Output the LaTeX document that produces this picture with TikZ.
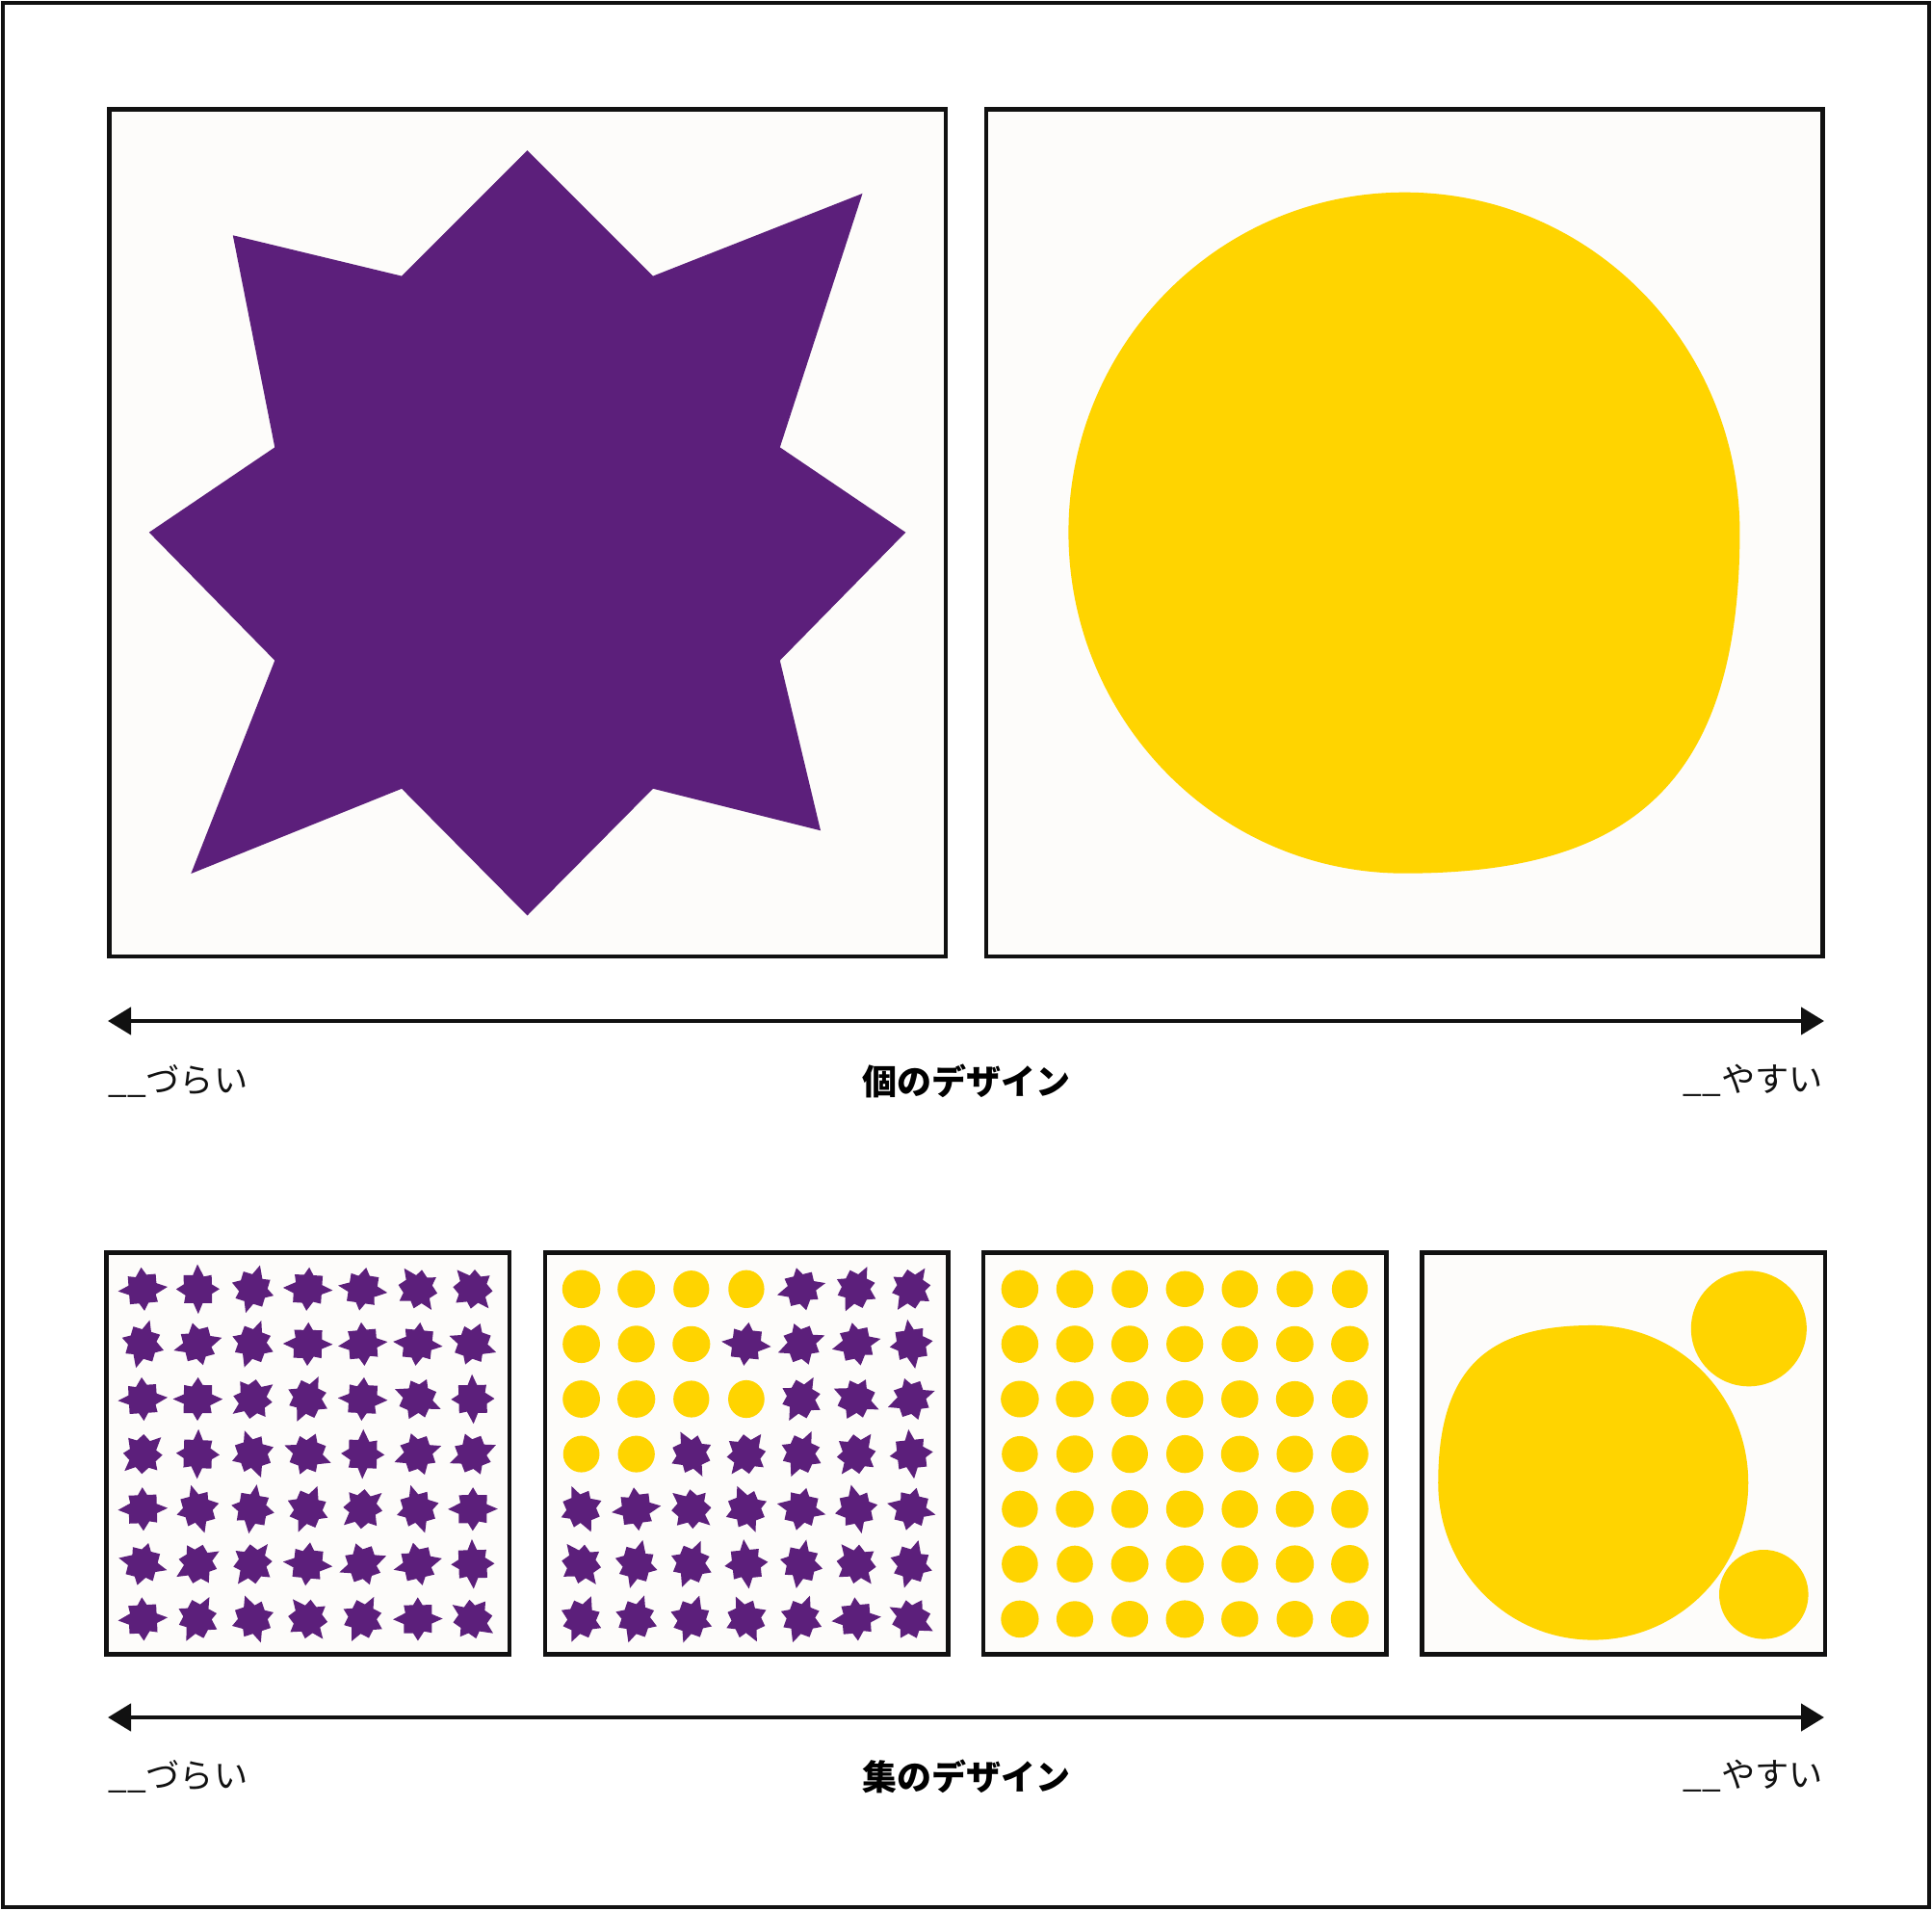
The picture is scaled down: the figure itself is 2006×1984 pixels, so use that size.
\documentclass[tikz,border=0pt]{standalone}
\usepackage{fontspec}
\newfontfamily\jpfont{Noto Sans CJK JP}
\usetikzlibrary{arrows.meta}
\definecolor{starpurple}{RGB}{92,31,123}
\definecolor{dotyellow}{RGB}{255,212,0}
\definecolor{panelbg}{RGB}{253,252,250}
\definecolor{inkblack}{RGB}{17,17,17}
\tikzset{
  outerframe/.style={draw=inkblack, line width=2pt},
  panel/.style={draw=inkblack, line width=2.25pt, fill=panelbg},
  axis/.style={draw=inkblack, line width=2.25pt, {Triangle[length=12pt,width=14pt]}-{Triangle[length=12pt,width=14pt]}},
  lbl/.style={inner sep=0pt, font=\jpfont\fontsize{17.6pt}{21pt}\selectfont, text=inkblack},
  ttl/.style={inner sep=0pt, font=\jpfont\bfseries\fontsize{18pt}{21pt}\selectfont, text=black},
  starshape/.pic={
    \fill[starpurple] (0,-396.6) -- (130.5,-266.1) -- (348,-351.8) -- (262.3,-88.3)
      -- (392.8,0) -- (262.3,133) -- (304.5,309.6) -- (130.5,266.1)
      -- (0,397.8) -- (-130.4,266.1) -- (-349.2,354.3) -- (-262.2,133)
      -- (-392.7,0) -- (-262.2,-88.3) -- (-305.7,-308.4) -- (-130.4,-266.1) -- cycle;
  },
  blob/.pic={
    \fill[dotyellow] (0,-353) .. controls (-193,-353) and (-349,-195) .. (-349,0)
      .. controls (-349,195) and (-193,354) .. (0,354)
      .. controls (230,354) and (348,265) .. (348,0)
      .. controls (348,-195) and (193,-353) .. (0,-353) -- cycle;
  },
}
\begin{document}
\begin{tikzpicture}[x=0.5pt,y=-0.5pt]
\useasboundingbox (0,0) rectangle (2006,1984);
\fill[white] (0,0) rectangle (2006,1984);
\draw[outerframe] (3,3) rectangle (2003,1980);

% top panels
\draw[panel] (113.3,113.3) rectangle (981.8,993);
\draw[panel] (1024,113.3) rectangle (1892.3,993);
\pic at (547.5,552.7) {starshape};
\pic at (1458.4,552.7) {blob};

% top axis
\coordinate (a1l) at (112,1060);
\coordinate (a1r) at (1894,1060);
\draw[axis] (a1l) -- (a1r);
\node[lbl, anchor=west] (l1) at (112,1122) {\_\_づらい};
\node[ttl] (t1) at (1003,1122) {個のデザイン};
\node[lbl, anchor=east] (r1) at (1893,1122) {\_\_やすい};

% bottom panels
\foreach \k in {0,...,3}{
  \pgfmathsetmacro\px{110.5+455.3*\k}
  \draw[panel] (\px,1300.7) rectangle ({\px+418.6},1717.5);
}

\pgfmathsetseed{4217}
% panel 1: all stars
\foreach \i in {0,...,6}{
  \foreach \j in {0,...,6}{
    \pgfmathsetmacro\cx{148.3+57.1*\i}
    \pgfmathsetmacro\cy{1338.3+57.1*\j}
    \pgfmathsetmacro\rot{360*rnd}
    \pic[rotate=\rot, scale=0.052] at (\cx,\cy) {starshape};
  }
}
% panel 2: mixed
\foreach \j/\n in {0/4,1/3,2/4,3/2,4/0,5/0,6/0}{
  \foreach \i in {0,...,6}{
    \pgfmathsetmacro\cx{148.3+455.3+57.1*\i}
    \pgfmathsetmacro\cy{1338.3+57.1*\j}
    \pgfmathsetmacro\rot{360*rnd}
    \pgfmathsetmacro\rx{18.6+1.2*rnd}
    \pgfmathsetmacro\ry{18.6+1.2*rnd}
    \ifnum\i<\n\relax
      \fill[dotyellow] (\cx,\cy) ellipse [x radius=\rx, y radius=\ry];
    \else
      \pic[rotate=\rot, scale=0.052] at (\cx,\cy) {starshape};
    \fi
  }
}
% panel 3: all dots
\foreach \i in {0,...,6}{
  \foreach \j in {0,...,6}{
    \pgfmathsetmacro\cx{148.3+2*455.3+57.1*\i}
    \pgfmathsetmacro\cy{1338.3+57.1*\j}
    \pgfmathsetmacro\rx{18.6+1.2*rnd}
    \pgfmathsetmacro\ry{18.6+1.2*rnd}
    \fill[dotyellow] (\cx,\cy) ellipse [x radius=\rx, y radius=\ry];
  }
}
% panel 4: big blob and two small
\pic[rotate=180, scale=0.462] at (1654,1539.5) {blob};
\fill[dotyellow] (1815.8,1379.3) circle [radius=60];
\fill[dotyellow] (1831.3,1655.3) circle [radius=46.3];

% bottom axis
\coordinate (a2l) at (112,1783);
\coordinate (a2r) at (1894,1783);
\draw[axis] (a2l) -- (a2r);
\node[lbl, anchor=west] (l2) at (112,1844) {\_\_づらい};
\node[ttl] (t2) at (1003,1844) {集のデザイン};
\node[lbl, anchor=east] (r2) at (1893,1844) {\_\_やすい};
\end{tikzpicture}
\end{document}
